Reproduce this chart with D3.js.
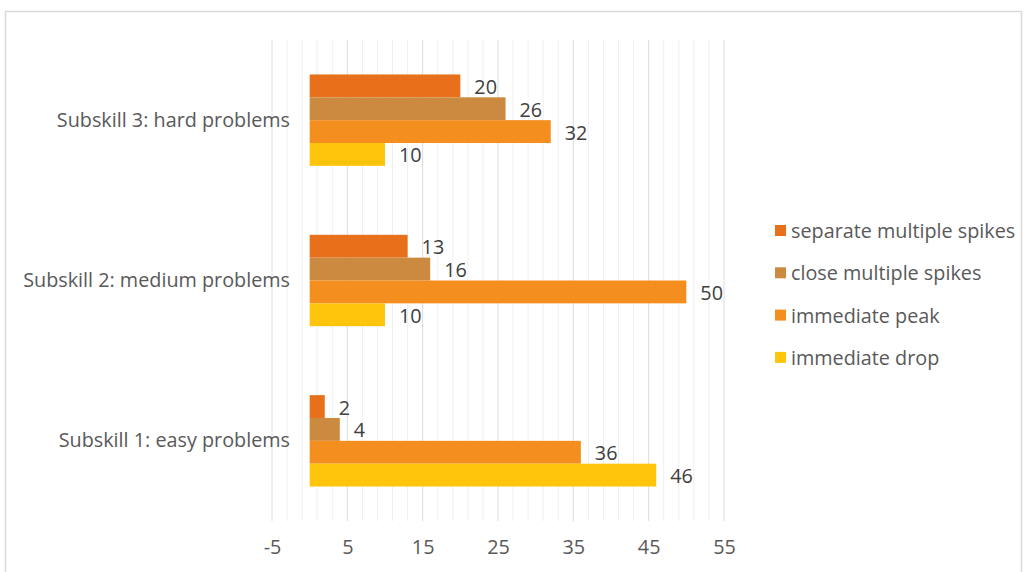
<!DOCTYPE html>
<html><head><meta charset="utf-8">
<script src="https://cdn.jsdelivr.net/npm/d3@7"></script>
<style>body{margin:0;background:#fff;font-family:"Open Sans",Lato,sans-serif;}</style>
</head><body><svg id="c" width="1027" height="572"></svg>
<script>
const categories = ["Subskill 3: hard problems","Subskill 2: medium problems","Subskill 1: easy problems"];
const seriesNames = ["separate multiple spikes","close multiple spikes","immediate peak","immediate drop"];
const separateSpikes = [20,13,2];
const closeSpikes = [26,16,4];
const immediatePeak = [32,50,36];
const immediateDrop = [10,10,46];
const tickValues = [-5,5,15,25,35,45,55];
const colors = ["#E8701A","#CB8A3F","#F48E1F","#FFC50C"];

const FONT = "'Open Sans', Lato, sans-serif";
const FS = 19.8;
const series = [separateSpikes, closeSpikes, immediatePeak, immediateDrop];
const svg = d3.select("#c").style("font-family",FONT);
svg.append("rect").attr("x",5.5).attr("y",11.5).attr("width",1016).attr("height",600)
  .attr("fill","#fff").attr("stroke","#d9d9d9").attr("stroke-width",1.5);

const x = d3.scaleLinear().domain([-5,55]).range([272,724]);
const y = d3.scaleBand().domain(categories).range([40,521]).paddingInner(0.43).paddingOuter(0.215);
const yInner = d3.scaleBand().domain(d3.range(seriesNames.length)).range([0,y.bandwidth()]);

const g = svg.append("g");
const minor = d3.range(-5,55.01,2).filter(v => (v+5)%10!==0);
g.selectAll("line.minor").data(minor).join("line")
  .attr("x1",d=>x(d)).attr("x2",d=>x(d)).attr("y1",40).attr("y2",521)
  .attr("stroke","#efefef").attr("stroke-width",1);
g.selectAll("line.major").data(tickValues).join("line")
  .attr("x1",d=>x(d)).attr("x2",d=>x(d)).attr("y1",40).attr("y2",521)
  .attr("stroke","#dcdcdc").attr("stroke-width",1);

const ax = svg.append("g").attr("transform","translate(0,534)")
  .call(d3.axisBottom(x).tickValues(tickValues).tickFormat(d=>String(d)).tickSize(0).tickPadding(6));
ax.select(".domain").remove();
ax.selectAll("text").attr("font-size",FS).attr("fill","#595959").attr("font-family",FONT);

const yax = svg.append("g").attr("transform","translate(298,0)")
  .call(d3.axisLeft(y).tickSize(0).tickPadding(8));
yax.select(".domain").remove();
yax.selectAll("text").attr("font-size",FS).attr("fill","#595959").attr("font-family",FONT);

seriesNames.forEach((name,si)=>{
  const data = series[si].map((v,ci)=>({cat:categories[ci],v}));
  svg.append("g").selectAll("rect").data(data).join("rect")
    .attr("x",x(0)).attr("y",d=>y(d.cat)+yInner(si))
    .attr("width",d=>x(d.v)-x(0)).attr("height",yInner.bandwidth())
    .attr("fill",colors[si]);
  svg.append("g").selectAll("text").data(data).join("text")
    .attr("x",d=>x(d.v)+14).attr("y",d=>y(d.cat)+yInner(si)+yInner.bandwidth()/2+8)
    .attr("font-size",FS).attr("fill","#404040").text(d=>d.v);
});

const lg = svg.append("g");
seriesNames.forEach((name,i)=>{
  const yy = 231 + i*42.3;
  lg.append("rect").attr("x",775).attr("y",yy-6).attr("width",11).attr("height",11).attr("fill",colors[i]);
  lg.append("text").attr("x",791).attr("y",yy+7).attr("font-size",FS).attr("fill","#595959").text(name);
});
</script></body></html>
